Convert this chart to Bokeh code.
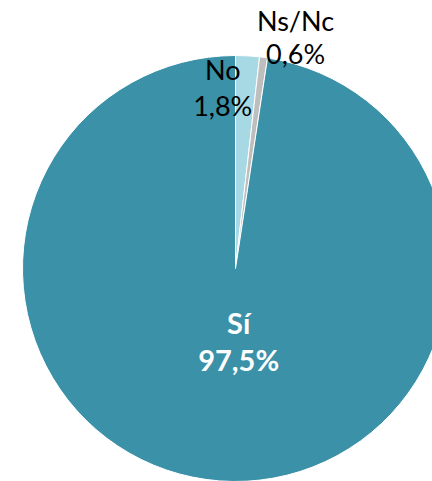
import math
from bokeh.plotting import figure
from bokeh.models import ColumnDataSource, Range1d
from bokeh.embed import file_html
from bokeh.resources import INLINE
from bokeh.core.properties import value

# Data
categories = ["No", "Ns/Nc", "Sí"]
percent = [1.8, 0.6, 97.5]
pct_labels = ["1,8%", "0,6%", "97,5%"]

# Styles
colors = ["#A7D9E4", "#BEBEBE", "#3A91A8"]
text_colors = ["#000000", "#000000", "#FFFFFF"]
text_styles = ["normal", "normal", "bold"]
text_sizes = ["27px", "27px", "29px"]
# label anchor (name baseline) in radius units, per slice
label_x = [-0.06, 0.282, 0.015]
label_y = [0.873 + 0.061, 1.103 + 0.061, -0.315 + 0.061]
line_gap = [0.169, 0.155, 0.173]

W, H = 432, 481
R_PX = 213
CX, CY = 235, 268  # center in figure px from top-left

total = sum(percent)
starts, ends = [], []
a = math.pi / 2
for v in percent:
    starts.append(a)
    a -= v / total * 2 * math.pi
    ends.append(a)

src = ColumnDataSource(dict(cat=categories, start=starts, end=ends, color=colors))

p = figure(width=W, height=H, output_backend="svg", toolbar_location=None,
           x_range=Range1d(-CX / R_PX, (W - CX) / R_PX),
           y_range=Range1d(-(H - CY) / R_PX, CY / R_PX),
           min_border=0)
p.axis.visible = False
p.grid.visible = False
p.outline_line_color = None
p.background_fill_color = "white"

p.wedge(x=0, y=0, radius=1, start_angle="start", end_angle="end", direction="clock",
        fill_color="color", line_color="white", line_width=1, source=src)

for i in range(len(categories)):
    for txt, dy in ((categories[i], 0.0), (pct_labels[i], -line_gap[i])):
        p.text(x=[label_x[i]], y=[label_y[i] + dy], text=[txt],
               text_font=value("Lato"), text_font_size=text_sizes[i],
               text_font_style=text_styles[i], text_color=text_colors[i],
               text_align="center", text_baseline="alphabetic")

open("out.html", "w").write(file_html(p, INLINE))
